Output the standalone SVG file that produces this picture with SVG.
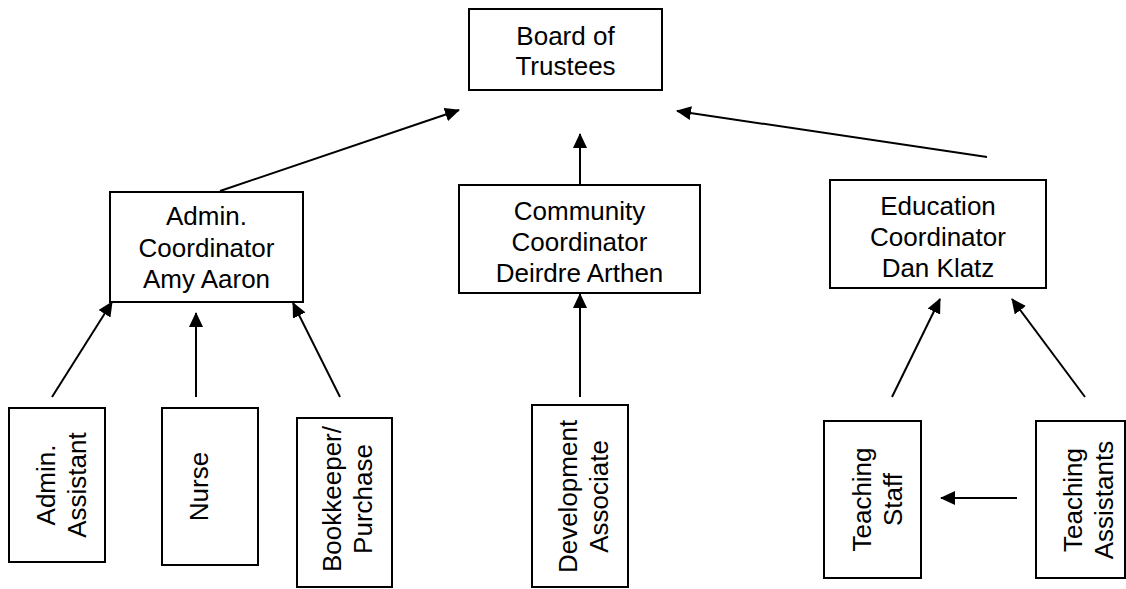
<svg xmlns="http://www.w3.org/2000/svg" width="1126" height="589" viewBox="0 0 1126 589">
<style>
.box{fill:#fff;stroke:#000;stroke-width:2}
.t{font-family:"Liberation Sans",Arial,sans-serif;font-size:26px;fill:#000;text-anchor:middle}
.c{stroke:#000;stroke-width:2;fill:none;marker-end:url(#ah)}
</style>
<defs>
<marker id="ah" markerUnits="userSpaceOnUse" markerWidth="15" markerHeight="14" refX="14" refY="7" orient="auto">
<path d="M0,0 L15,7 L0,14 z" fill="#000"/>
</marker>
</defs>
<rect width="1126" height="589" fill="#fff"/>
<g id="connectors">
<line class="c" x1="220" y1="191" x2="459" y2="110"/>
<line class="c" x1="580" y1="185" x2="580" y2="134"/>
<line class="c" x1="987" y1="157" x2="677" y2="111"/>
<line class="c" x1="52" y1="397" x2="112" y2="302"/>
<line class="c" x1="196" y1="397" x2="196" y2="313"/>
<line class="c" x1="340" y1="397" x2="293" y2="303"/>
<line class="c" x1="580" y1="397" x2="580" y2="294"/>
<line class="c" x1="892" y1="397" x2="940" y2="299"/>
<line class="c" x1="1085" y1="397" x2="1012" y2="299"/>
<line class="c" x1="1017" y1="498" x2="941" y2="498"/>
</g>
<g id="board">
<rect class="box" x="469" y="9" width="193" height="81"/>
<text class="t"><tspan x="565.5" y="45">Board of</tspan><tspan x="565.5" y="75">Trustees</tspan></text>
</g>
<g id="admin-coord">
<rect class="box" x="110" y="192" width="193" height="110"/>
<text class="t"><tspan x="206.5" y="225">Admin.</tspan><tspan x="206.5" y="256.5">Coordinator</tspan><tspan x="206.5" y="287.5">Amy Aaron</tspan></text>
</g>
<g id="community-coord">
<rect class="box" x="459" y="185" width="241" height="108"/>
<text class="t"><tspan x="579.5" y="219.5">Community</tspan><tspan x="579.5" y="250.5">Coordinator</tspan><tspan x="579.5" y="281.5">Deirdre Arthen</tspan></text>
</g>
<g id="education-coord">
<rect class="box" x="830" y="180" width="216" height="108"/>
<text class="t"><tspan x="938" y="215">Education</tspan><tspan x="938" y="246">Coordinator</tspan><tspan x="938" y="276.5">Dan Klatz</tspan></text>
</g>
<g id="admin-assistant">
<rect class="box" x="9" y="408" width="96" height="154"/>
<text class="t" transform="translate(0,485) rotate(-90)"><tspan x="0" y="55">Admin.</tspan><tspan x="0" y="86">Assistant</tspan></text>
</g>
<g id="nurse">
<rect class="box" x="162" y="408" width="96" height="157"/>
<text class="t" transform="translate(0,486.5) rotate(-90)"><tspan x="0" y="208">Nurse</tspan></text>
</g>
<g id="bookkeeper">
<rect class="box" x="297" y="418" width="95" height="169"/>
<text class="t" transform="translate(0,499) rotate(-90)"><tspan x="0" y="341">Bookkeeper/</tspan><tspan x="0" y="372">Purchase</tspan></text>
</g>
<g id="development">
<rect class="box" x="532" y="405" width="96" height="182"/>
<text class="t" transform="translate(0,496.5) rotate(-90)"><tspan x="0" y="577">Development</tspan><tspan x="0" y="608">Associate</tspan></text>
</g>
<g id="teaching-staff">
<rect class="box" x="824" y="421" width="97" height="157"/>
<text class="t" transform="translate(0,499.5) rotate(-90)"><tspan x="0" y="871">Teaching</tspan><tspan x="0" y="902">Staff</tspan></text>
</g>
<g id="teaching-assistants">
<rect class="box" x="1036" y="421" width="89" height="157"/>
<text class="t" transform="translate(0,500) rotate(-90)"><tspan x="0" y="1082">Teaching</tspan><tspan x="0" y="1113">Assistants</tspan></text>
</g>
</svg>
